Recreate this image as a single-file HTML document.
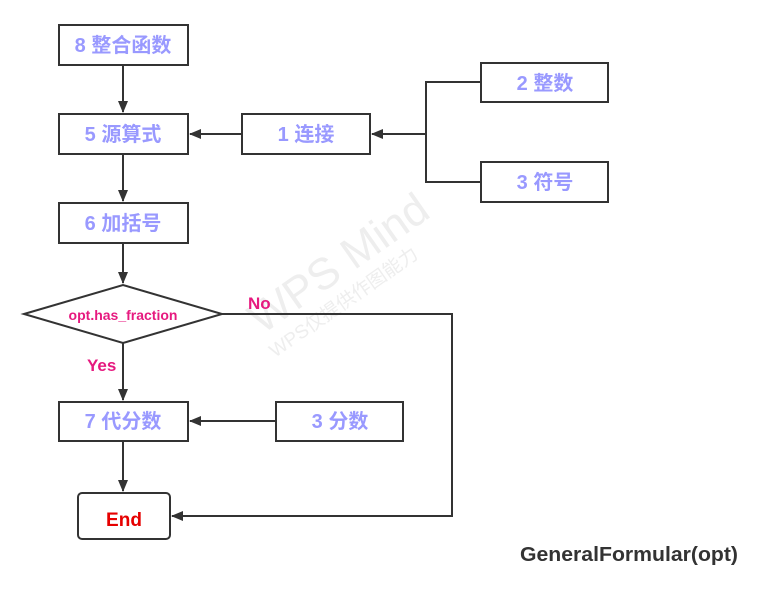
<html><body style="margin:0;width:771px;height:598px;background:#fff;overflow:hidden">
<svg width="771" height="598" xmlns="http://www.w3.org/2000/svg" font-family="Liberation Sans, Noto Sans CJK SC, sans-serif" font-weight="bold">
<defs><marker id="a" markerWidth="12" markerHeight="10" refX="11" refY="5" orient="auto" markerUnits="userSpaceOnUse"><path d="M0,0L12,5L0,10z" fill="#333"/></marker></defs>
<text x="262" y="335" font-size="44" font-weight="normal" fill="#eee" transform="rotate(-35 262 335)">WPS Mind</text>
<text x="275" y="358" font-size="19" font-weight="normal" fill="#eee" transform="rotate(-35 275 358)">WPS仅提供作图能力</text>
<g stroke="#333" stroke-width="2" fill="none">
<rect x="59" y="25" width="129" height="40" fill="#fff"/>
<rect x="59" y="114" width="129" height="40"/>
<rect x="242" y="114" width="128" height="40"/>
<rect x="481" y="63" width="127" height="39"/>
<rect x="481" y="162" width="127" height="40"/>
<rect x="59" y="203" width="129" height="40"/>
<path d="M24,314L123,285L222,314L123,343z"/>
<rect x="59" y="402" width="129" height="39"/>
<rect x="276" y="402" width="127" height="39"/>
<rect x="78" y="493" width="92" height="46" rx="4"/>
<path d="M123,65V112" marker-end="url(#a)"/>
<path d="M123,154V201" marker-end="url(#a)"/>
<path d="M123,243V283" marker-end="url(#a)"/>
<path d="M123,343V400" marker-end="url(#a)"/>
<path d="M123,441V491" marker-end="url(#a)"/>
<path d="M242,134H190" marker-end="url(#a)"/>
<path d="M276,421H190" marker-end="url(#a)"/>
<path d="M481,82H426V182H481M426,134H372" marker-end="url(#a)"/>
<path d="M222,314H452V516H172" marker-end="url(#a)"/>
</g>
<g fill="#9999ff" font-size="20" text-anchor="middle">
<text x="123" y="52">8 整合函数</text>
<text x="123" y="141">5 源算式</text>
<text x="306" y="141">1 连接</text>
<text x="545" y="90">2 整数</text>
<text x="545" y="189">3 符号</text>
<text x="123" y="230">6 加括号</text>
<text x="123" y="428">7 代分数</text>
<text x="340" y="428">3 分数</text>
</g>
<text x="123" y="320" font-size="14" fill="#e6197f" text-anchor="middle">opt.has_fraction</text>
<text x="248" y="309" font-size="17" fill="#e6197f">No</text>
<text x="87" y="371" font-size="17" fill="#e6197f">Yes</text>
<text x="124" y="526" font-size="19" fill="#e60000" text-anchor="middle">End</text>
<text x="520" y="561" font-size="20" fill="#333" textLength="218" lengthAdjust="spacingAndGlyphs">GeneralFormular(opt)</text>
</svg></body></html>
